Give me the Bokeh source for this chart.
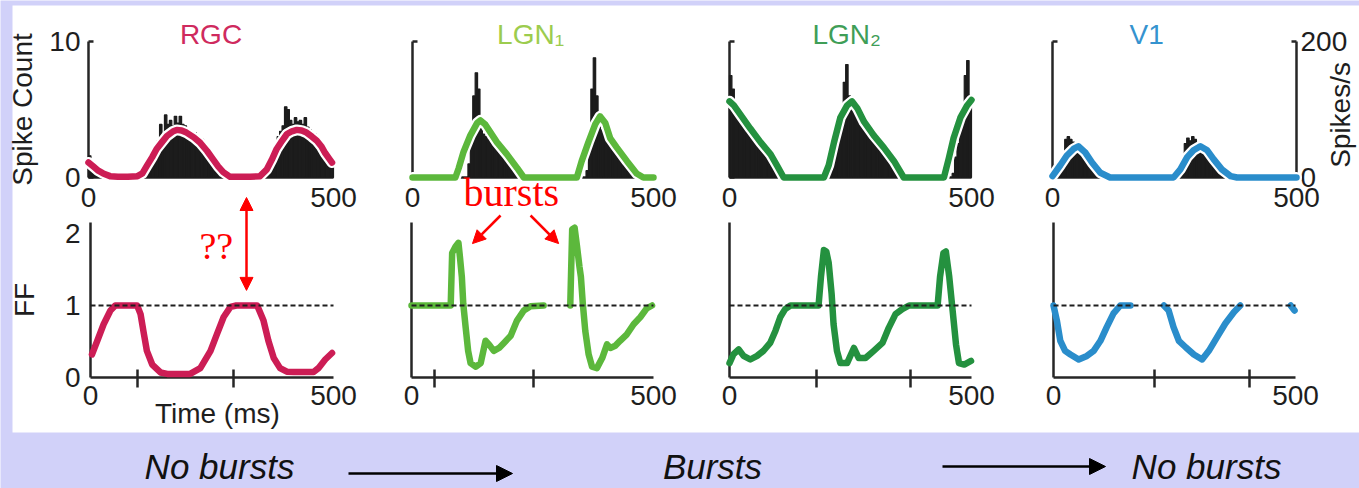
from math import pi
from bokeh.plotting import figure
from bokeh.models import Range1d, LinearAxis, FixedTicker, Label, Arrow, NormalHead, BoxAnnotation
from bokeh.embed import file_html
from bokeh.resources import INLINE

# ---------------- data ----------------
areas = ["RGC", "LGN\u2081", "LGN\u2082", "V1"]
bin_starts = list(range(0, 500, 5))          # 5 ms bins, 0..495 ms
t_start, t_end = 0, 500

rgc_hist = [1.6, 1.0, 0.6, 0.4, 0.3, 0.2, 0.1, 0.1, 0.05, 0.05,
            0.05, 0.05, 0.05, 0.05, 0.05, 0.05, 0.05, 0.05, 0.05, 0.1,
            0.1, 0.2, 0.4, 0.6, 0.9, 1.3, 1.7, 2.2, 2.7, 3.9,
            3.2, 4.6, 3.9, 4.2, 3.8, 4.5, 4.0, 4.5, 3.9, 3.8,
            3.5, 3.4, 3.2, 3.3, 3.0, 2.9, 2.8, 2.5, 2.2, 2.0,
            1.6, 1.3, 1.0, 0.7, 0.5, 0.3, 0.15, 0.05, 0.05, 0.05,
            0.05, 0.05, 0.05, 0.05, 0.05, 0.05, 0.05, 0.05, 0.05, 0.1,
            0.2, 0.4, 0.7, 1.1, 1.5, 2.0, 2.5, 3.0, 3.4, 3.8,
            5.2, 5.0, 4.2, 3.9, 4.4, 4.1, 4.2, 3.9, 4.4, 3.7,
            3.5, 3.2, 3.2, 2.9, 2.6, 2.3, 2.1, 1.8, 1.5, 1.2]
lgn1_hist = [0, 0, 0, 0, 0, 0, 0, 0, 0, 0,
             0, 0, 0, 0, 0, 0, 0, 0, 0, 0,
             0, 0, 0, 1.0, 2.5, 6.0, 7.7, 6.5, 3.8, 3.2,
             3.0, 2.8, 2.6, 2.4, 2.2, 2.0, 1.8, 1.6, 1.4, 1.2,
             1.0, 0.8, 0.6, 0.45, 0.3, 0.15, 0.05, 0, 0, 0,
             0, 0, 0, 0, 0, 0, 0, 0, 0, 0,
             0, 0, 0, 0, 0, 0, 0, 0, 0, 0,
             0, 0, 0.5, 3.0, 6.5, 8.8, 6.0, 4.5, 3.5, 3.2,
             2.6, 2.4, 2.2, 2.0, 1.8, 1.6, 1.4, 1.2, 1.0, 0.85,
             0.7, 0.55, 0.4, 0.3, 0.2, 0.1, 0.05, 0, 0, 0]
lgn2_hist = [7.5, 6.5, 5.5, 5.0, 4.5, 4.3, 4.4, 4.2, 3.8, 3.5,
             3.3, 3.0, 2.7, 2.4, 2.2, 1.9, 1.7, 1.4, 1.1, 0.8,
             0.5, 0.3, 0.1, 0, 0, 0, 0, 0, 0, 0,
             0, 0, 0, 0, 0, 0, 0, 0, 0, 0,
             0, 0.2, 0.5, 1.5, 2.5, 3.5, 4.5, 7.0, 8.3, 6.0,
             5.3, 5.0, 4.7, 4.4, 4.1, 3.8, 3.6, 3.4, 3.2, 3.0,
             2.8, 2.5, 2.3, 2.1, 1.9, 1.6, 1.4, 1.1, 0.9, 0.6,
             0.4, 0.2, 0.1, 0, 0, 0, 0, 0, 0, 0,
             0, 0, 0, 0, 0, 0, 0, 0, 0, 0,
             0, 0, 0.3, 1.5, 2.5, 3.5, 5.0, 7.5, 8.6, 6.0]
v1_hist = [0, 0.1, 0.2, 0.4, 1.5, 2.8, 3.0, 2.8, 2.6, 2.4,
           2.2, 2.1, 1.9, 1.6, 1.3, 1.0, 0.8, 0.6, 0.4, 0.2,
           0.1, 0, 0, 0, 0, 0, 0, 0, 0, 0,
           0, 0, 0, 0, 0, 0, 0, 0, 0, 0,
           0, 0, 0, 0, 0, 0, 0, 0, 0, 0,
           0, 0, 0.3, 1.0, 2.5, 2.9, 2.7, 3.0, 2.8, 2.4,
           2.2, 2.1, 1.9, 1.7, 1.4, 1.1, 0.9, 0.6, 0.4, 0.2,
           0.1, 0, 0, 0, 0, 0, 0, 0, 0, 0,
           0, 0, 0, 0, 0, 0, 0, 0, 0, 0,
           0, 0, 0, 0, 0, 0, 0, 0, 0, 0]

# firing-rate curves (spikes/s)
rgc_rate_t = [0, 10, 20, 30, 44, 60, 80, 100, 110, 119, 130, 139, 150, 160, 173, 180, 190, 200,
              215, 228, 242, 255, 265, 275, 289, 310, 330, 350, 364, 374, 384, 395, 405, 415,
              425, 435, 445, 456, 466, 475, 483, 490, 497]
rgc_rate = [22, 16, 10, 6, 2, 1, 1, 2, 6, 17, 30, 42, 52, 61, 68, 70, 69, 66,
            59, 51, 39, 26, 16, 8, 1, 1, 1, 2, 12, 26, 42, 54, 64, 68,
            70, 69, 66, 60, 54, 46, 36, 29, 22]
lgn1_rate_t = [0, 50, 89, 96, 106, 120, 134, 141, 151, 162, 175, 196, 217, 231, 280, 341, 351,
               365, 379, 389, 400, 410, 424, 445, 465, 479, 500]
lgn1_rate = [0, 0, 0, 14, 38, 62, 80, 84, 78, 66, 52, 34, 14, 0, 0, 0, 24,
             52, 78, 90, 80, 58, 44, 24, 6, 0, 0]
lgn2_rate_t = [0, 9, 23, 43, 64, 85, 98, 112, 150, 195, 205, 216, 229, 243, 253, 264, 278, 298,
               319, 340, 360, 400, 443, 453, 463, 477, 491, 500]
lgn2_rate = [112, 106, 92, 72, 52, 34, 18, 0, 0, 0, 18, 52, 88, 106, 112, 102, 82, 62,
             44, 24, 0, 0, 0, 28, 58, 88, 106, 114]
v1_rate_t = [0, 16, 29, 43, 53, 67, 81, 98, 118, 180, 248, 262, 276, 289, 303, 317, 330, 347,
             365, 378, 440, 500]
v1_rate = [2, 18, 32, 42, 46, 37, 22, 7, 0, 0, 0, 12, 30, 40, 46, 40, 27, 12,
           2, 0, 0, 0]

NaN = float("nan")
# Fano factor curves
rgc_ff_t = [3, 14, 27, 41, 51, 70, 96, 103, 110, 116, 127, 144, 158, 180, 205, 226, 247, 260,
            274, 288, 300, 343, 356, 366, 377, 390, 404, 418, 440, 459, 469, 483, 497]
rgc_ff = [0.32, 0.51, 0.74, 0.93, 1.0, 1.0, 1.0, 0.88, 0.6, 0.37, 0.18, 0.07, 0.05, 0.05, 0.05,
          0.13, 0.37, 0.6, 0.84, 0.98, 1.0, 1.0, 0.79, 0.51, 0.27, 0.13, 0.08, 0.075, 0.075,
          0.075, 0.13, 0.25, 0.34]
lgn1_ff_t = [0, 40, 81, 84, 91, 97, 100, 104, 107, 112, 117, 122, 133, 143, 153, 160, 170, 181,
             191, 205, 218, 232, 246, 273, 300, 328, 332, 337, 342, 347, 350, 354, 359, 366,
             373, 383, 394, 404, 411, 421, 431, 445, 459, 473, 486, 497]
lgn1_ff = [1.0, 1.0, 1.0, 1.73, 1.82, 1.87, 1.68, 1.4, 1.02, 0.69, 0.37, 0.2, 0.15, 0.2, 0.51,
           0.46, 0.37, 0.41, 0.48, 0.58, 0.79, 0.93, 0.99, 1.0, NaN, 1.0, 2.06, 2.08, 1.82,
           1.54, 1.4, 1.02, 0.65, 0.32, 0.15, 0.13, 0.27, 0.46, 0.41, 0.44, 0.51, 0.6, 0.74,
           0.84, 0.96, 1.0]
lgn2_ff_t = [0, 8, 19, 29, 43, 57, 70, 84, 95, 105, 115, 126, 184, 189, 195, 200, 205, 211, 215,
             222, 229, 243, 257, 267, 281, 298, 316, 329, 343, 357, 371, 430, 435, 442, 447,
             454, 461, 468, 474, 485, 499]
lgn2_ff = [0.2, 0.32, 0.39, 0.3, 0.25, 0.3, 0.37, 0.48, 0.65, 0.84, 0.95, 1.0, 1.0, 1.4, 1.77,
           1.75, 1.59, 1.16, 0.74, 0.37, 0.2, 0.2, 0.41, 0.27, 0.27, 0.37, 0.48, 0.69, 0.88,
           0.95, 1.0, 1.0, 1.4, 1.73, 1.75, 1.4, 0.93, 0.46, 0.2, 0.18, 0.23]
v1_ff_t = [0, 7, 14, 24, 35, 52, 69, 83, 97, 110, 124, 138, 159, 190, 228, 238, 248, 259, 273,
           290, 307, 321, 338, 355, 373, 386, 440, 490, 498]
v1_ff = [1.0, 0.79, 0.51, 0.37, 0.32, 0.25, 0.3, 0.37, 0.51, 0.7, 0.89, 1.0, 1.0, NaN, 1.0, 0.93,
         0.7, 0.51, 0.42, 0.32, 0.25, 0.37, 0.56, 0.75, 0.91, 1.0, NaN, 1.0, 0.93]

cycle_ticks = [[97, 294], [48, 252], [180, 374], [209, 405]]
ff_reference = 1.0

hists = [rgc_hist, lgn1_hist, lgn2_hist, v1_hist]
rates = [(rgc_rate_t, rgc_rate), (lgn1_rate_t, lgn1_rate), (lgn2_rate_t, lgn2_rate), (v1_rate_t, v1_rate)]
ffs = [(rgc_ff_t, rgc_ff), (lgn1_ff_t, lgn1_ff), (lgn2_ff_t, lgn2_ff), (v1_ff_t, v1_ff)]

# ---------------- style / layout ----------------
W, H = 1359, 488
LAV = "#d1d1f9"
AX = "#262626"
TXT = "#1e1e1e"
HIST = "#1c1c1c"
RED = "#ff0000"
curve_colors = ["#cc1d55", "#5cb83c", "#24913f", "#2a8dcb"]
title_colors = ["#cf2a5e", "#9ccc4e", "#3f9e57", "#3593cf"]
title_x = [250, 245, 242, 193]
FONT = "Liberation Sans"
FS = "28px"

# pixel placement of each panel: time 0 and 500 -> page columns
top_px = [(88, 333), (412, 653), (729, 971), (1052, 1296)]
bot_px = [(90, 333), (411, 653), (729, 971), (1053, 1295)]


def xr(X0, X1, v0=0.0, v1=500.0):
    k = (X1 - X0) / (v1 - v0)
    return Range1d(v0 - X0 / k, v0 + (W - X0) / k)


def yr(Y0, Y1, v0, v1):
    k = (Y0 - Y1) / (v1 - v0)
    return Range1d(v0 - (H - Y0) / k, v0 + Y0 / k)


p = figure(width=W, height=H, x_range=Range1d(0, W), y_range=Range1d(0, H),
           min_border=0, toolbar_location=None, output_backend="svg",
           x_axis_location=None, y_axis_location=None, title=None)
p.grid.visible = False
p.outline_line_color = None
p.background_fill_color = LAV
p.border_fill_color = LAV

p.extra_x_ranges = {**{f"xt{i}": xr(*top_px[i]) for i in range(4)},
                    **{f"xb{i}": xr(*bot_px[i]) for i in range(4)}}
p.extra_y_ranges = {"cnt": yr(177, 41, 0, 10), "rate": yr(177, 41, 0, 200),
                    "ff": yr(377, 305, 0, 1)}

# white figure area
p.add_layout(BoxAnnotation(left=12, right=W, bottom=H - 432, top=H - 5, fill_color="white",
                           fill_alpha=1, line_color=None, level="image"))


def style_axis(ax):
    ax.level = "underlay"
    ax.axis_line_color = AX
    ax.axis_line_width = 2.5
    ax.major_tick_line_color = AX
    ax.major_tick_line_width = 2.5
    ax.minor_tick_line_color = AX
    ax.minor_tick_line_width = 2.5
    ax.major_label_text_font = FONT
    ax.major_label_text_font_size = FS
    ax.major_label_text_color = TXT
    ax.axis_label_text_font = FONT
    ax.axis_label_text_font_size = FS
    ax.axis_label_text_font_style = "normal"
    ax.axis_label_text_color = TXT
    return ax


for i in range(4):
    xt, xb = f"xt{i}", f"xb{i}"
    # ---- top: PSTH + rate ----
    ax = style_axis(LinearAxis(x_range_name=xt, y_range_name="cnt", fixed_location=0,
                               bounds=(t_start, t_end), ticker=FixedTicker(ticks=[t_start, t_end])))
    ax.major_tick_in = 0
    ax.major_tick_out = 0
    ax.major_label_standoff = 10
    p.add_layout(ax, "below")
    ay = style_axis(LinearAxis(x_range_name=xt, y_range_name="cnt", fixed_location=t_start,
                               bounds=(0, 10), ticker=FixedTicker(ticks=[0, 10])))
    ay.major_tick_in = 5
    ay.major_tick_out = 0
    ay.major_label_standoff = 8
    if i == 0:
        ay.axis_label = "Spike Count"
        ay.axis_label_standoff = 8
    else:
        ay.major_label_overrides = {0: "", 10: ""}
    p.add_layout(ay, "left")
    if i == 3:
        ra = style_axis(LinearAxis(x_range_name=xt, y_range_name="rate", fixed_location=t_end,
                                   bounds=(0, 200), ticker=FixedTicker(ticks=[0, 200])))
        ra.major_tick_in = 5
        ra.major_tick_out = 0
        ra.major_label_standoff = 4
        p.add_layout(ra, "right")
        p.add_layout(Label(x=t_end, y=4.6, x_offset=44, x_range_name=xt, y_range_name="cnt",
                           text="Spikes/s", angle=pi / 2, text_align="center",
                           text_baseline="middle", text_font=FONT, text_font_size=FS,
                           text_color=TXT))
    centers = [s + 2.5 for s in bin_starts]
    p.vbar(x=centers, width=5, top=hists[i], bottom=0, fill_color=HIST, line_color=HIST,
           line_width=1.2, x_range_name=xt, y_range_name="cnt")
    tr, rv = rates[i]
    p.line(tr, rv, x_range_name=xt, y_range_name="rate", line_color="white", line_width=11,
           line_join="round", line_cap="round")
    p.line(tr, rv, x_range_name=xt, y_range_name="rate", line_color=curve_colors[i],
           line_width=6.5, line_join="round", line_cap="round")
    p.add_layout(Label(x=title_x[i], y=10, y_offset=7, x_range_name=xt, y_range_name="cnt",
                       text=areas[i], text_align="center", text_baseline="middle",
                       text_font=FONT, text_font_size=FS, text_color=title_colors[i]))

    # ---- bottom: Fano factor ----
    bx = style_axis(LinearAxis(x_range_name=xb, y_range_name="ff", fixed_location=0,
                               bounds=(t_start, t_end),
                               ticker=FixedTicker(ticks=[t_start, t_end], minor_ticks=cycle_ticks[i])))
    bx.major_tick_in = 0
    bx.major_tick_out = 0
    bx.minor_tick_in = 8
    bx.minor_tick_out = 10
    bx.major_label_standoff = -2
    p.add_layout(bx, "below")
    by = style_axis(LinearAxis(x_range_name=xb, y_range_name="ff", fixed_location=t_start,
                               bounds=(0, 2.15), ticker=FixedTicker(ticks=[0, 1, 2])))
    by.major_tick_in = 0
    by.major_tick_out = 0
    by.major_label_standoff = 10
    if i == 0:
        by.axis_label = "FF"
        by.axis_label_standoff = 22
        p.add_layout(Label(x=261, y=0, y_offset=-36, x_range_name=xb, y_range_name="ff",
                           text="Time (ms)", text_align="center", text_baseline="middle",
                           text_font=FONT, text_font_size=FS, text_color=TXT))
    else:
        by.major_label_overrides = {0: "", 1: "", 2: ""}
    p.add_layout(by, "left")
    ft, fv = ffs[i]
    p.line(ft, fv, x_range_name=xb, y_range_name="ff", line_color=curve_colors[i], line_width=6.5,
           line_join="round", line_cap="round")
    p.segment(x0=[t_start], y0=[ff_reference], x1=[t_end], y1=[ff_reference],
              x_range_name=xb, y_range_name="ff", line_color=TXT, line_width=2,
              line_dash="5 3")


# ---- red annotations ----
def red_head():
    return NormalHead(size=13, fill_color=RED, line_color=RED)


p.add_layout(Arrow(x_start=321, y_start=1.21, x_end=321, y_end=2.5, start=red_head(),
                   end=red_head(), x_range_name="xb0", y_range_name="ff",
                   line_color=RED, line_width=2.5))
p.add_layout(Label(x=259, y=1.83, x_range_name="xb0", y_range_name="ff", text="??",
                   text_align="center", text_baseline="middle", text_font="Liberation Serif",
                   text_font_size="38px", text_color=RED))
p.add_layout(Label(x=205, y=-1.1, x_range_name="xt1", y_range_name="cnt", text="bursts",
                   text_align="center", text_baseline="middle",
                   text_font="Liberation Serif", text_font_size="40px", text_color=RED))
for xs, xe in [(184, 126), (246, 304)]:
    p.add_layout(Arrow(x_start=xs, y_start=2.25, x_end=xe, y_end=1.86, end=red_head(),
                       x_range_name="xb1", y_range_name="ff", line_color=RED, line_width=2.5))

# ---- caption strip (page pixel coordinates, y from bottom) ----
for txt, x in [("No bursts", 219), ("Bursts", 712), ("No bursts", 1206)]:
    p.add_layout(Label(x=x, y=H - 466, text=txt, text_align="center", text_baseline="middle",
                       text_font=FONT, text_font_style="italic", text_font_size="35px",
                       text_color="#111111"))
for xs, xe, yy in [(348, 512, H - 473), (942, 1105, H - 466)]:
    p.add_layout(Arrow(x_start=xs, y_start=yy, x_end=xe, y_end=yy,
                       end=NormalHead(size=16, fill_color="black", line_color="black"),
                       line_color="black", line_width=2.5))

open("out.html", "w").write(file_html(p, INLINE))
